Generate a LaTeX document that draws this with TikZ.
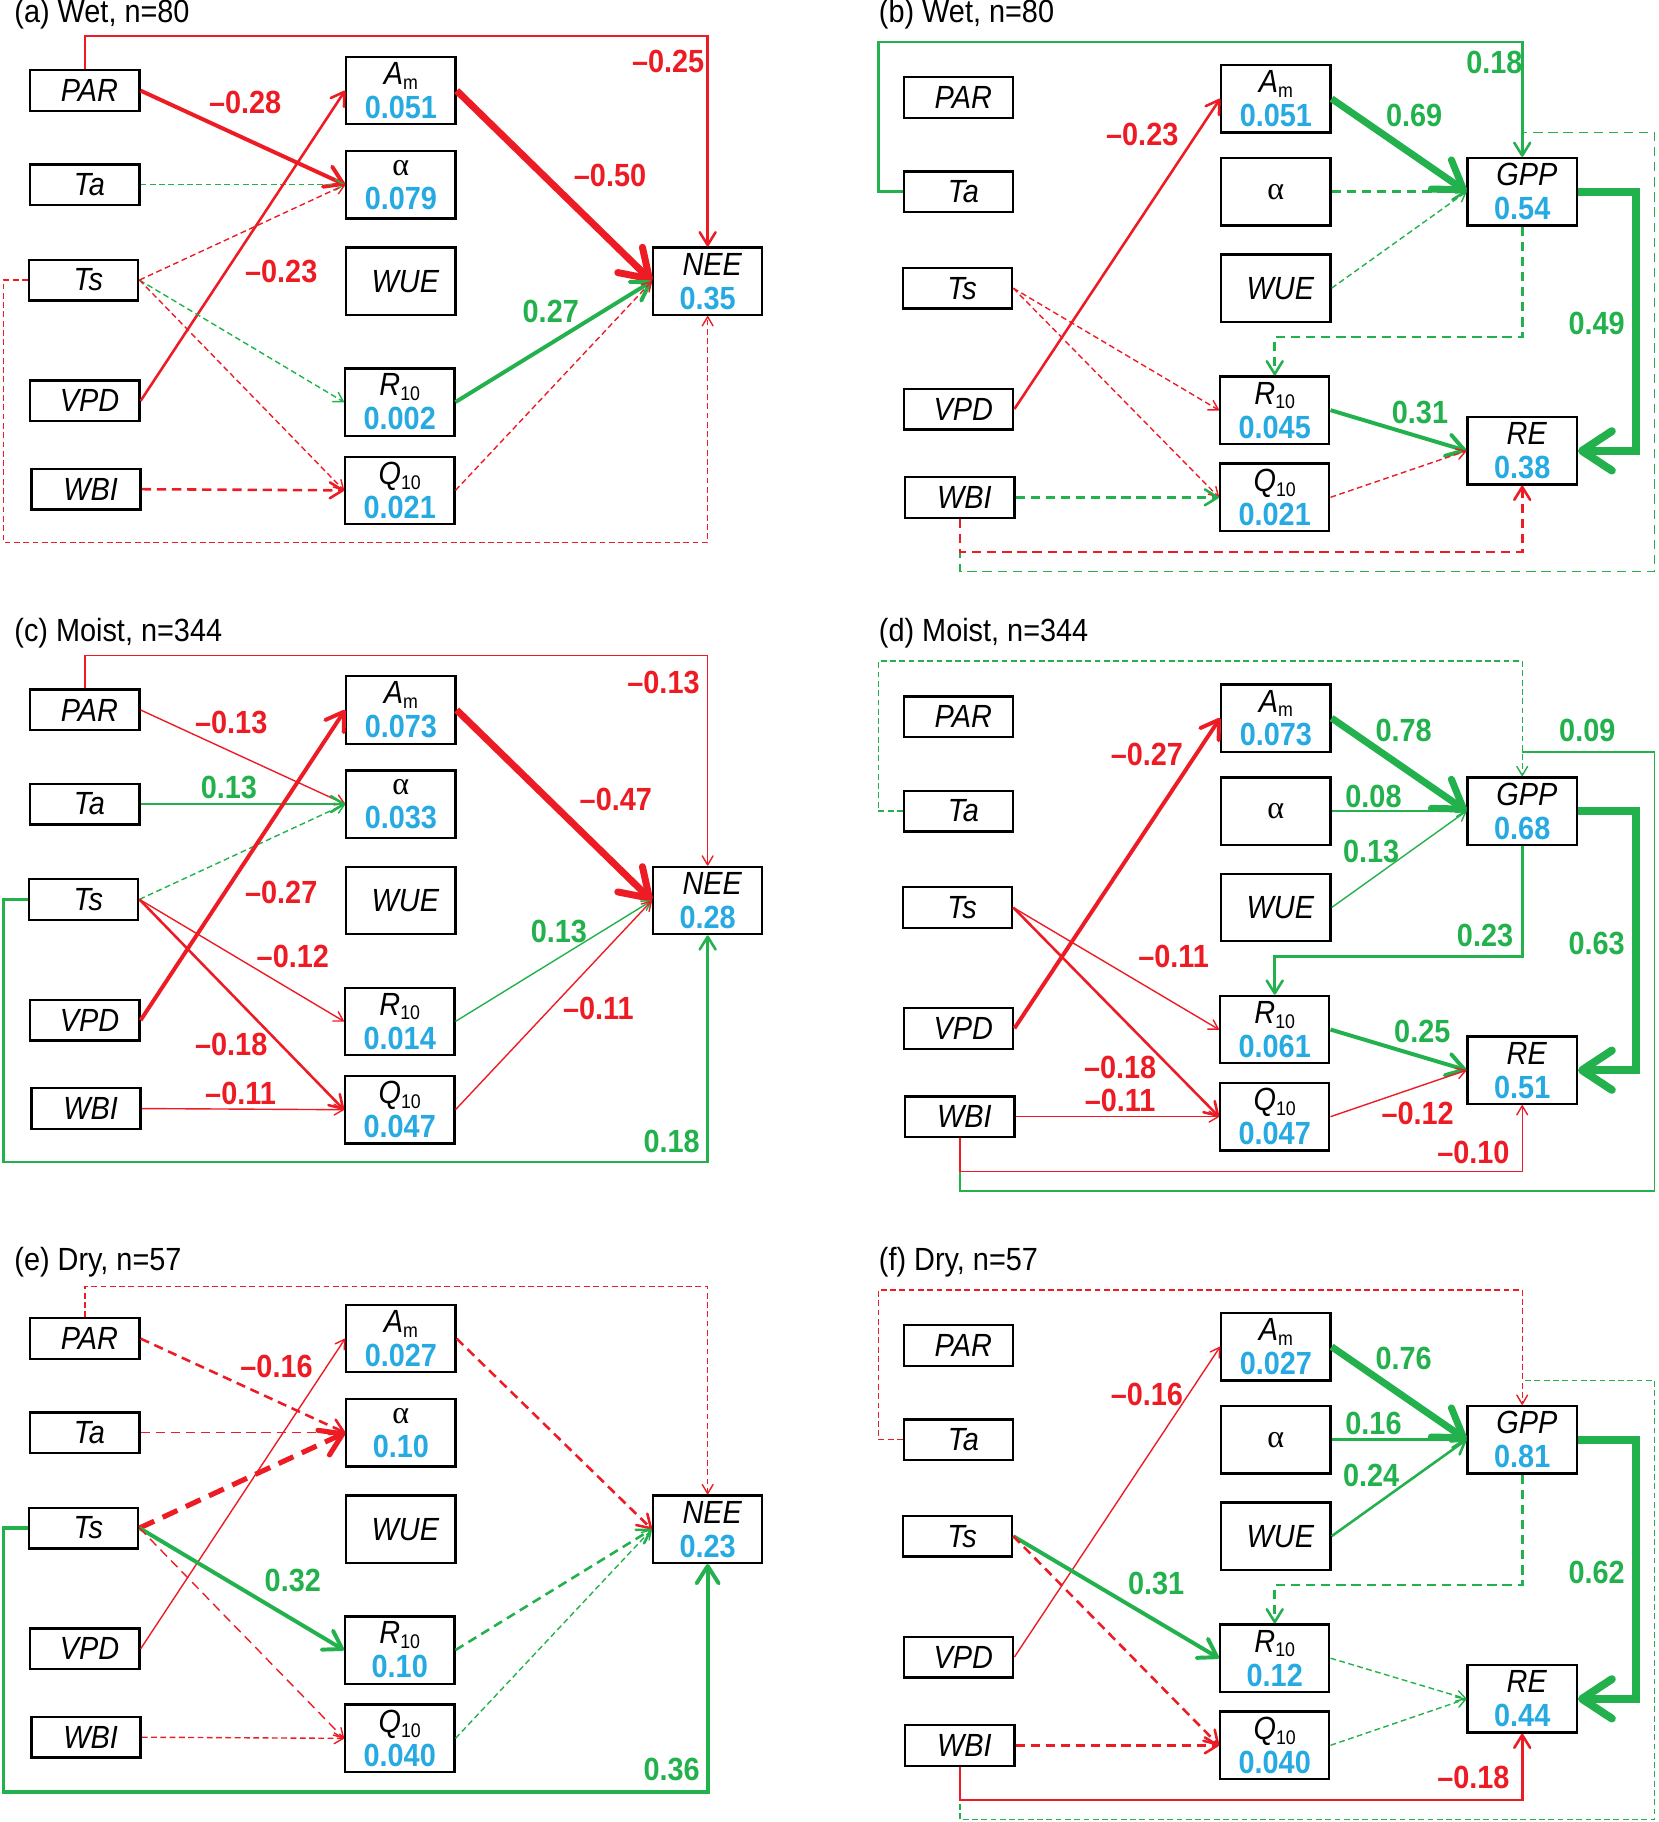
\documentclass[tikz,border=0pt]{standalone}
\usepackage{fontspec}
\setmainfont{Liberation Sans}[FakeStretch=0.9]
\newfontfamily\grk{Liberation Serif}
\usetikzlibrary{arrows.meta}
\definecolor{cR}{RGB}{237,28,36}
\definecolor{cG}{RGB}{34,177,76}
\definecolor{cB}{RGB}{39,170,225}
\newcommand\fs{\fontsize{13.8}{14.6}\selectfont}
\newcommand\sbs[1]{\raisebox{-2pt}{\fontsize{8.5}{8.5}\selectfont #1}}
\newcommand\val[1]{\textcolor{cB}{\bfseries #1}}
\tikzset{
 bx/.style={draw, line width=1pt, inner sep=0pt, minimum width=47pt, font=\fs, align=center},
 inb/.style={bx, minimum height=17.5pt},
 mdb/.style={bx, minimum height=29pt},
 ttl/.style={anchor=west, inner sep=0pt, font=\fs},
 el/.style={inner sep=0pt, font=\fs\bfseries},
 elr/.style={el, text=cR}, elg/.style={el, text=cG},
 cn/.style={-{Straight Barb[length=2pt 3.2, width=2pt 4.4, round]}},
 rd/.style={draw=cR}, gr/.style={draw=cG},
 wA/.style={line width=0.6pt}, wB/.style={line width=1.1pt}, wC/.style={line width=1.7pt},
 wD/.style={line width=3pt}, wE/.style={line width=3.4pt},
 dA/.style={dash pattern=on 2.5pt off 1.5pt}, dB/.style={dash pattern=on 4pt off 2.5pt},
 dD/.style={dash pattern=on 7pt off 4pt}
}
\newcommand\leftpanel[7]{%
 \node[ttl] (#1t) at (12,12) {#2};
 \node[inb] (#1PAR) at (73,78) {\hspace*{4pt}\textit{PAR}};
 \node[inb] (#1Ta) at (73,159) {\hspace*{4pt}\textit{Ta}};
 \node[inb] (#1Ts) at (72,241) {\hspace*{4pt}\textit{Ts}};
 \node[inb] (#1VPD) at (73,345) {\hspace*{4pt}\textit{VPD}};
 \node[inb] (#1WBI) at (74,421) {\hspace*{4pt}\textit{WBI}};
 \node[mdb] (#1Am) at (345,78) {\textit{A}\sbs{m}\\\val{#3}};
 \node[mdb] (#1al) at (345,159) {{\grk α}\\\val{#4}};
 \node[mdb] (#1WUE) at (345,242) {\hspace*{4pt}\textit{WUE}};
 \node[mdb] (#1R) at (344,346) {\textit{R}\sbs{10}\\\val{#5}};
 \node[mdb] (#1Q) at (344,422) {\textit{Q}\sbs{10}\\\val{#6}};
 \node[mdb] (#1NEE) at (609,242) {\hspace*{4pt}\textit{NEE}\\\val{#7}};
}
\newcommand\rightpanel[7]{%
 \node[ttl] (#1t) at (756,12) {#2};
 \node[inb] (#1PAR) at (825,84) {\hspace*{4pt}\textit{PAR}};
 \node[inb] (#1Ta) at (825,165) {\hspace*{4pt}\textit{Ta}};
 \node[inb] (#1Ts) at (824,248) {\hspace*{4pt}\textit{Ts}};
 \node[inb] (#1VPD) at (825,352) {\hspace*{4pt}\textit{VPD}};
 \node[inb] (#1WBI) at (826,428) {\hspace*{4pt}\textit{WBI}};
 \node[mdb] (#1Am) at (1098,85) {\textit{A}\sbs{m}\\\val{#3}};
 \node[mdb] (#1al) at (1098,165) {{\grk α}};
 \node[mdb] (#1WUE) at (1098,248) {\hspace*{4pt}\textit{WUE}};
 \node[mdb] (#1R) at (1097,353) {\textit{R}\sbs{10}\\\val{#4}};
 \node[mdb] (#1Q) at (1097,428) {\textit{Q}\sbs{10}\\\val{#5}};
 \node[mdb] (#1GPP) at (1310,165) {\hspace*{4pt}\textit{GPP}\\\val{#6}};
 \node[mdb] (#1RE) at (1310,388) {\hspace*{4pt}\textit{RE}\\\val{#7}};
 \coordinate (#1TopL) at (756,36);
 \coordinate (#1J) at (1310,114);
 \coordinate (#1RB) at (1424,492);
 \coordinate (#1RL) at (1310,475);
 \coordinate (#1M) at (1097,290);
 \coordinate (#1RR) at (1408,165);
}
\begin{document}
\begin{tikzpicture}[x=0.5pt,y=-0.5pt]
\useasboundingbox (0,0) rectangle (1427,1568);
% ---------------- (a)
\begin{scope}
\leftpanel{a}{(a) Wet, n=80}{0.051}{0.079}{0.002}{0.021}{0.35}
\coordinate (aTop) at (73,31);
\coordinate (aBot) at (3,467);
\draw[cn,rd,wB] (aPAR.north) |- (aTop) -| (aNEE.north);
\draw[cn,rd,wC] (aPAR.east) -- (aal.west);
\draw[cn,gr,wA,dA] (aTa.east) -- (aal.west);
\draw[cn,rd,wA,dA] (aTs.east) -- (aal.west);
\draw[cn,rd,wB] (aVPD.east) -- (aAm.west);
\draw[cn,gr,wA,dA] (aTs.east) -- (aR.west);
\draw[cn,rd,wA,dA] (aTs.east) -- (aQ.west);
\draw[cn,rd,wB,dB] (aWBI.east) -- (aQ.west);
\draw[cn,rd,wD] (aAm.east) -- (aNEE.west);
\draw[cn,gr,wC] (aR.east) -- (aNEE.west);
\draw[cn,rd,wA,dA] (aQ.east) -- (aNEE.west);
\draw[cn,rd,wA,dA] (aTs.west) -| (aBot) -| (aNEE.south);
\node[elr] (aL1) at (575,53) {–0.25};
\node[elr] (aL2) at (211,88) {–0.28};
\node[elr] (aL3) at (525,151) {–0.50};
\node[elr] (aL4) at (242,234) {–0.23};
\node[elg] (aL5) at (474,268) {0.27};
\end{scope}
% ---------------- (b)
\begin{scope}
\rightpanel{b}{(b) Wet, n=80}{0.051}{0.045}{0.021}{0.54}{0.38}
\draw[cn,gr,wB] (bTa.west) -| (bTopL) -| (bGPP.north);
\draw[gr,wA,dB] (bWBI.south) |- (bRB) |- (bJ);
\draw[cn,rd,wB,dB] (bWBI.south) |- (bRL) -- (bRE.south);
\draw[cn,rd,wB] (bVPD.east) -- (bAm.west);
\draw[cn,gr,wD] (bAm.east) -- (bGPP.west);
\draw[cn,gr,wB,dB] (bal.east) -- (bGPP.west);
\draw[cn,gr,wA,dA] (bWUE.east) -- (bGPP.west);
\draw[cn,gr,wB,dB] (bGPP.south) |- (bM) -- (bR.north);
\draw[cn,gr,wE] (bGPP.east) -- (bRR) |- (bRE.east);
\draw[cn,rd,wA,dA] (bTs.east) -- (bR.west);
\draw[cn,rd,wA,dA] (bTs.east) -- (bQ.west);
\draw[cn,gr,wC] (bR.east) -- (bRE.west);
\draw[cn,rd,wA,dA] (bQ.east) -- (bRE.west);
\draw[cn,gr,wB,dB] (bWBI.east) -- (bQ.west);
\node[elg] (bL1) at (1286,54) {0.18};
\node[elr] (bL2) at (983,116) {–0.23};
\node[elg] (bL3) at (1217,99) {0.69};
\node[elg] (bL4) at (1374,278) {0.49};
\node[elg] (bL5) at (1222,355) {0.31};
\end{scope}
% ---------------- (c)
\begin{scope}[shift={(0,533)}]
\leftpanel{c}{(c) Moist, n=344}{0.073}{0.033}{0.014}{0.047}{0.28}
\coordinate (cTop) at (73,31);
\coordinate (cBot) at (3,467);
\draw[cn,rd,wA] (cPAR.north) |- (cTop) -| (cNEE.north);
\draw[cn,rd,wA] (cPAR.east) -- (cal.west);
\draw[cn,gr,wB] (cTa.east) -- (cal.west);
\draw[cn,gr,wA,dA] (cTs.east) -- (cal.west);
\draw[cn,rd,wC] (cVPD.east) -- (cAm.west);
\draw[cn,rd,wA] (cTs.east) -- (cR.west);
\draw[cn,rd,wB] (cTs.east) -- (cQ.west);
\draw[cn,rd,wA] (cWBI.east) -- (cQ.west);
\draw[cn,rd,wD] (cAm.east) -- (cNEE.west);
\draw[cn,gr,wA] (cR.east) -- (cNEE.west);
\draw[cn,rd,wA] (cQ.east) -- (cNEE.west);
\draw[cn,gr,wB] (cTs.west) -| (cBot) -| (cNEE.south);
\node[elr] (cL1) at (571,54) {–0.13};
\node[elr] (cL2) at (199,89) {–0.13};
\node[elg] (cL3) at (197,145) {0.13};
\node[elr] (cL4) at (242,235) {–0.27};
\node[elr] (cL5) at (530,155) {–0.47};
\node[elr] (cL6) at (252,290) {–0.12};
\node[elg] (cL7) at (481,269) {0.13};
\node[elr] (cL8) at (515,335) {–0.11};
\node[elr] (cL9) at (199,366) {–0.18};
\node[elr] (cL10) at (207,408) {–0.11};
\node[elg] (cL11) at (578,449) {0.18};
\end{scope}
% ---------------- (d)
\begin{scope}[shift={(0,533)}]
\rightpanel{d}{(d) Moist, n=344}{0.073}{0.061}{0.047}{0.68}{0.51}
\draw[cn,gr,wA,dA] (dTa.west) -| (dTopL) -| (dGPP.north);
\draw[gr,wA] (dWBI.south) |- (dRB) |- (dJ);
\draw[cn,rd,wA] (dWBI.south) |- (dRL) -- (dRE.south);
\draw[cn,rd,wC] (dVPD.east) -- (dAm.west);
\draw[cn,gr,wD] (dAm.east) -- (dGPP.west);
\draw[cn,gr,wA] (dal.east) -- (dGPP.west);
\draw[cn,gr,wA] (dWUE.east) -- (dGPP.west);
\draw[cn,gr,wB] (dGPP.south) |- (dM) -- (dR.north);
\draw[cn,gr,wE] (dGPP.east) -- (dRR) |- (dRE.east);
\draw[cn,rd,wA] (dTs.east) -- (dR.west);
\draw[cn,rd,wB] (dTs.east) -- (dQ.west);
\draw[cn,gr,wC] (dR.east) -- (dRE.west);
\draw[cn,rd,wA] (dQ.east) -- (dRE.west);
\draw[cn,rd,wA] (dWBI.east) -- (dQ.west);
\node[elr] (dL1) at (987,116) {–0.27};
\node[elg] (dL2) at (1208,96) {0.78};
\node[elg] (dL3) at (1366,96) {0.09};
\node[elg] (dL4) at (1182,152) {0.08};
\node[elg] (dL5) at (1180,200) {0.13};
\node[elg] (dL6) at (1278,272) {0.23};
\node[elg] (dL7) at (1374,279) {0.63};
\node[elr] (dL8) at (1010,290) {–0.11};
\node[elg] (dL9) at (1224,355) {0.25};
\node[elr] (dL10) at (964,386) {–0.18};
\node[elr] (dL11) at (964,414) {–0.11};
\node[elr] (dL12) at (1220,425) {–0.12};
\node[elr] (dL13) at (1268,459) {–0.10};
\end{scope}
% ---------------- (e)
\begin{scope}[shift={(0,1074)}]
\leftpanel{e}{(e) Dry, n=57}{0.027}{0.10}{0.10}{0.040}{0.23}
\coordinate (eTop) at (73,33);
\coordinate (eBot) at (3,468);
\draw[cn,rd,wA,dA] (ePAR.north) |- (eTop) -| (eNEE.north);
\draw[cn,rd,wB,dB] (ePAR.east) -- (eal.west);
\draw[cn,rd,wA,dB] (eTa.east) -- (eal.west);
\draw[cn,rd,line width=2.2pt,dD] (eTs.east) -- (eal.west);
\draw[cn,rd,wA] (eVPD.east) -- (eAm.west);
\draw[cn,gr,wC] (eTs.east) -- (eR.west);
\draw[cn,rd,wA,dB] (eTs.east) -- (eQ.west);
\draw[cn,rd,wA,dA] (eWBI.east) -- (eQ.west);
\draw[cn,rd,wB,dB] (eAm.east) -- (eNEE.west);
\draw[cn,gr,wB,dB] (eR.east) -- (eNEE.west);
\draw[cn,gr,wA,dA] (eQ.east) -- (eNEE.west);
\draw[cn,gr,wC] (eTs.west) -| (eBot) -| (eNEE.south);
\node[elr] (eL1) at (238,102) {–0.16};
\node[elg] (eL2) at (252,286) {0.32};
\node[elg] (eL3) at (578,449) {0.36};
\end{scope}
% ---------------- (f)
\begin{scope}[shift={(0,1074)}]
\rightpanel{f}{(f) Dry, n=57}{0.027}{0.12}{0.040}{0.81}{0.44}
\draw[cn,rd,wA,dA] (fTa.west) -| (fTopL) -| (fGPP.north);
\draw[gr,wA,dA] (fWBI.south) |- (fRB) |- (fJ);
\draw[cn,rd,wB] (fWBI.south) |- (fRL) -- (fRE.south);
\draw[cn,rd,wA] (fVPD.east) -- (fAm.west);
\draw[cn,gr,wD] (fAm.east) -- (fGPP.west);
\draw[cn,gr,wB] (fal.east) -- (fGPP.west);
\draw[cn,gr,wB] (fWUE.east) -- (fGPP.west);
\draw[cn,gr,wB,dB] (fGPP.south) |- (fM) -- (fR.north);
\draw[cn,gr,wE] (fGPP.east) -- (fRR) |- (fRE.east);
\draw[cn,gr,wC] (fTs.east) -- (fR.west);
\draw[cn,rd,wB,dB] (fTs.east) -- (fQ.west);
\draw[cn,gr,wA,dA] (fR.east) -- (fRE.west);
\draw[cn,gr,wA,dA] (fQ.east) -- (fRE.west);
\draw[cn,rd,wB,dB] (fWBI.east) -- (fQ.west);
\node[elr] (fL1) at (987,126) {–0.16};
\node[elg] (fL2) at (1208,95) {0.76};
\node[elg] (fL3) at (1182,151) {0.16};
\node[elg] (fL4) at (1180,196) {0.24};
\node[elg] (fL5) at (1374,279) {0.62};
\node[elg] (fL6) at (995,289) {0.31};
\node[elr] (fL7) at (1268,456) {–0.18};
\end{scope}
\end{tikzpicture}
\end{document}
